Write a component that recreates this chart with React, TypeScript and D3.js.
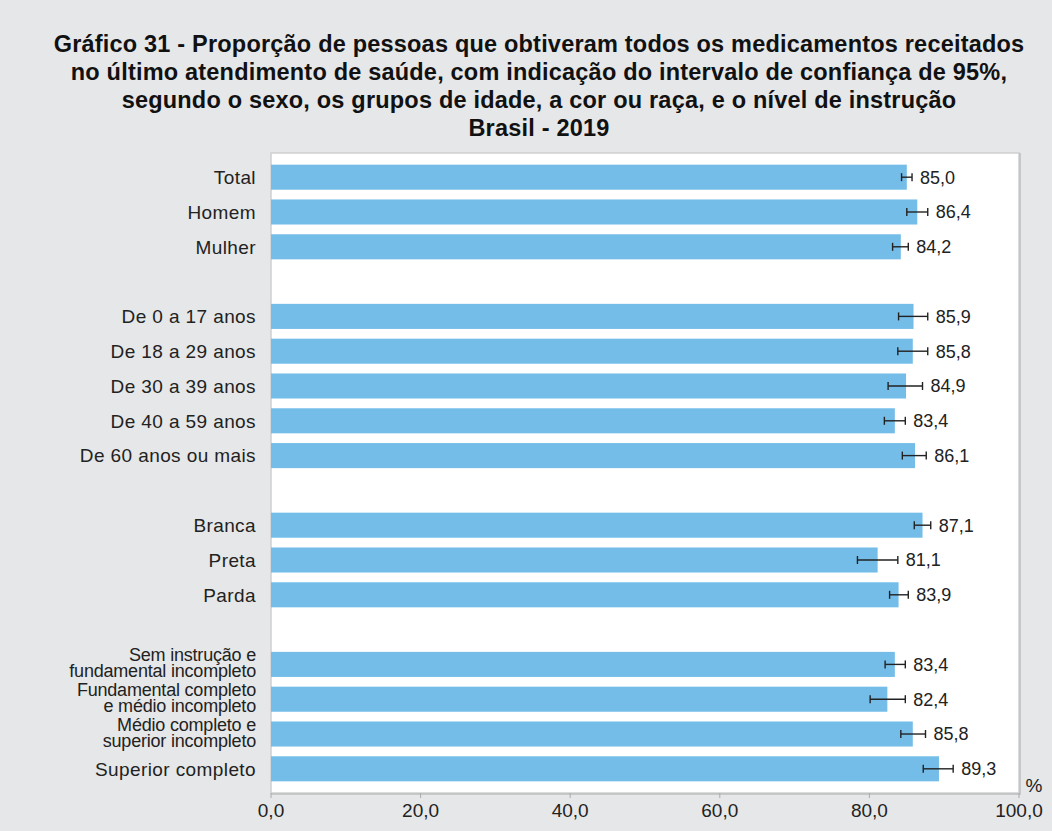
import React, { useEffect, useRef } from 'react';
import * as d3 from 'd3';

const titleLines = [
  'Gráfico 31 - Proporção de pessoas que obtiveram todos os medicamentos receitados',
  'no último atendimento de saúde, com indicação do intervalo de confiança de 95%,',
  'segundo o sexo, os grupos de idade, a cor ou raça, e o nível de instrução',
  'Brasil - 2019',
];

const categories = [
  'Total',
  'Homem',
  'Mulher',
  'De 0 a 17 anos',
  'De 18 a 29 anos',
  'De 30 a 39 anos',
  'De 40 a 59 anos',
  'De 60 anos ou mais',
  'Branca',
  'Preta',
  'Parda',
  'Sem instrução e\nfundamental incompleto',
  'Fundamental completo\ne médio incompleto',
  'Médio completo e\nsuperior incompleto',
  'Superior completo',
];
const groupSizes = [3, 5, 3, 4];
const values = [85.0, 86.4, 84.2, 85.9, 85.8, 84.9, 83.4, 86.1, 87.1, 81.1, 83.9, 83.4, 82.4, 85.8, 89.3];
const ciLower = [84.3, 85.0, 83.1, 83.9, 83.8, 82.5, 82.0, 84.4, 86.0, 78.4, 82.7, 82.1, 80.1, 84.2, 87.2];
const ciUpper = [85.7, 87.8, 85.2, 87.8, 87.8, 87.1, 84.8, 87.6, 88.2, 83.8, 85.2, 84.8, 84.8, 87.5, 91.2];
const xTicks = [0, 20, 40, 60, 80, 100];

const fmt = (v) => d3.format('.1f')(v).replace('.', ',');

function App() {
  const ref = useRef(null);

  useEffect(() => {
    const W = 1052, H = 831;
    const plot = { left: 271, right: 1019, top: 153, bottom: 793 };
    const font = "'Liberation Sans', Arial, sans-serif";

    const svg = d3.select(ref.current);
    svg.selectAll('*').remove();

    svg.append('rect').attr('width', W).attr('height', H).attr('fill', '#e6e7e8');

    // title
    svg.append('g')
      .selectAll('text')
      .data(titleLines)
      .enter().append('text')
      .attr('x', 539)
      .attr('y', (d, i) => 52 + i * 28)
      .attr('text-anchor', 'middle')
      .attr('font-family', font)
      .attr('font-weight', 'bold')
      .attr('font-size', 23.5)
      .attr('letter-spacing', 0.2)
      .attr('fill', '#111')
      .text(d => d);

    // slots with blank spacers between groups
    const slots = [];
    let k = 0;
    groupSizes.forEach((n, g) => {
      for (let i = 0; i < n; i++) slots.push({ key: 'c' + k, idx: k++ });
      if (g < groupSizes.length - 1) slots.push({ key: 'gap' + g, idx: -1 });
    });

    const x = d3.scaleLinear().domain([0, 100]).range([plot.left, plot.right]);
    const y = d3.scaleBand()
      .domain(slots.map(s => s.key))
      .range([plot.top, plot.bottom])
      .paddingInner(0.28)
      .paddingOuter(0.335);

    // plot panel
    svg.append('rect')
      .attr('x', plot.left).attr('y', plot.top)
      .attr('width', plot.right - plot.left).attr('height', plot.bottom - plot.top)
      .attr('fill', '#fff')
      .attr('stroke', '#cfd0d1')
      .attr('stroke-width', 1.5);
    svg.append('path')
      .attr('d', `M${plot.right + 1},${plot.top} V${plot.bottom + 1} H${plot.left}`)
      .attr('fill', 'none')
      .attr('stroke', '#bdbebf')
      .attr('stroke-width', 1.5);

    // x axis
    const xAxis = svg.append('g');
    xAxis.selectAll('line')
      .data(xTicks)
      .enter().append('line')
      .attr('x1', d => x(d)).attr('x2', d => x(d))
      .attr('y1', plot.bottom).attr('y2', plot.bottom + 5)
      .attr('stroke', '#aaa');
    xAxis.selectAll('text')
      .data(xTicks)
      .enter().append('text')
      .attr('x', d => x(d))
      .attr('y', 817)
      .attr('text-anchor', 'middle')
      .attr('font-family', font)
      .attr('font-size', 19)
      .attr('fill', '#222')
      .text(d => fmt(d));
    svg.append('text')
      .attr('x', 1034).attr('y', 792)
      .attr('text-anchor', 'middle')
      .attr('font-family', font)
      .attr('font-size', 19)
      .attr('fill', '#222')
      .text('%');

    const rows = slots.filter(s => s.idx >= 0);
    const cy = s => y(s.key) + y.bandwidth() / 2;

    // bars
    svg.append('g')
      .selectAll('rect')
      .data(rows)
      .enter().append('rect')
      .attr('x', x(0))
      .attr('y', s => y(s.key))
      .attr('width', s => x(values[s.idx]) - x(0))
      .attr('height', y.bandwidth())
      .attr('fill', '#73bde8');

    // error bars
    const eb = svg.append('g').attr('stroke', '#222').attr('stroke-width', 1.4);
    rows.forEach(s => {
      const c = cy(s);
      const x1 = x(ciLower[s.idx]), x2 = x(ciUpper[s.idx]);
      eb.append('line').attr('x1', x1).attr('x2', x2).attr('y1', c).attr('y2', c);
      eb.append('line').attr('x1', x1).attr('x2', x1).attr('y1', c - 4).attr('y2', c + 4);
      eb.append('line').attr('x1', x2).attr('x2', x2).attr('y1', c - 4).attr('y2', c + 4);
    });

    // value labels
    svg.append('g')
      .selectAll('text')
      .data(rows)
      .enter().append('text')
      .attr('x', s => x(ciUpper[s.idx]) + 8)
      .attr('y', cy)
      .attr('dy', '0.36em')
      .attr('font-family', font)
      .attr('font-size', 18)
      .attr('fill', '#222')
      .text(s => fmt(values[s.idx]));

    // category labels (two-line ones are set tighter, as in the original)
    const labels = svg.append('g')
      .attr('font-family', font)
      .attr('fill', '#222')
      .attr('text-anchor', 'end');
    rows.forEach(s => {
      const lines = categories[s.idx].split('\n');
      const c = cy(s);
      const multi = lines.length > 1;
      const t = labels.append('text')
        .attr('x', 256)
        .attr('y', c)
        .attr('font-size', multi ? 18 : 19)
        .attr('letter-spacing', multi ? -0.2 : 0.4);
      lines.forEach((ln, i) => {
        t.append('tspan')
          .attr('x', 256)
          .attr('y', multi ? c - 9.5 + i * 16 : c)
          .attr('dy', '0.36em')
          .text(ln);
      });
    });
  }, []);

  return (
    <svg
      ref={ref}
      width={1052}
      height={831}
      style={{ position: 'absolute', left: 0, top: 0, display: 'block' }}
    />
  );
}

export default App;
